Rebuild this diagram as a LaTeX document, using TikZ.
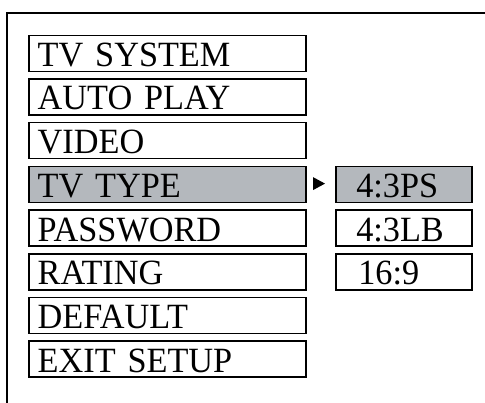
\documentclass[tikz,border=0pt]{standalone}
\usepackage{fontspec}
\setmainfont[FakeStretch=0.965]{Liberation Serif}
\definecolor{selgray}{HTML}{B4B8BD}
\begin{document}
\begin{tikzpicture}[x=1pt,y=-1pt,
  item/.style={draw,line width=1.5pt,minimum width=277pt,minimum height=36pt,
    text width=259pt,inner xsep=9pt,inner ysep=0pt,align=left,
    text height=26pt,text depth=0pt,font=\fontsize{35.5}{35.5}\selectfont,anchor=north west},
  sub/.style={draw,line width=1.5pt,minimum width=136pt,minimum height=36pt,
    text width=115pt,inner xsep=10.5pt,inner ysep=0pt,align=left,
    text height=26pt,text depth=0pt,font=\fontsize{35.5}{35.5}\selectfont,anchor=north west},
  sel/.style={fill=selgray}]
\useasboundingbox (0,0) rectangle (485,402);
\draw[line width=2.2pt] (7,405) -- (7,13) -- (490,13);
\node[item] (tvs) at (28,34.5) {TV SYSTEM};
\node[item] (auto) at (28,78.2) {AUTO PLAY};
\node[item] (video) at (28,121.9) {VIDEO};
\node[item,sel] (tvtype) at (28,165.6) {TV TYPE};
\node[item] (pwd) at (28,209.3) {PASSWORD};
\node[item] (rating) at (28,253) {RATING};
\node[item] (default) at (28,296.7) {DEFAULT};
\node[item] (exit) at (28,340.4) {EXIT SETUP};
\node[sub,sel] (ps) at (335,165.6) {\hspace*{10pt}4:3PS};
\node[sub] (lb) at (335,209.3) {\hspace*{10pt}4:3LB};
\node[sub] (wide) at (335,253) {\hspace*{12pt}16:9};
\coordinate (tri) at (313,183.6);
\fill (tri) ++(0,-6.5) -- ++(12,6.5) -- ++(-12,6.5) -- cycle;
\end{tikzpicture}
\end{document}
